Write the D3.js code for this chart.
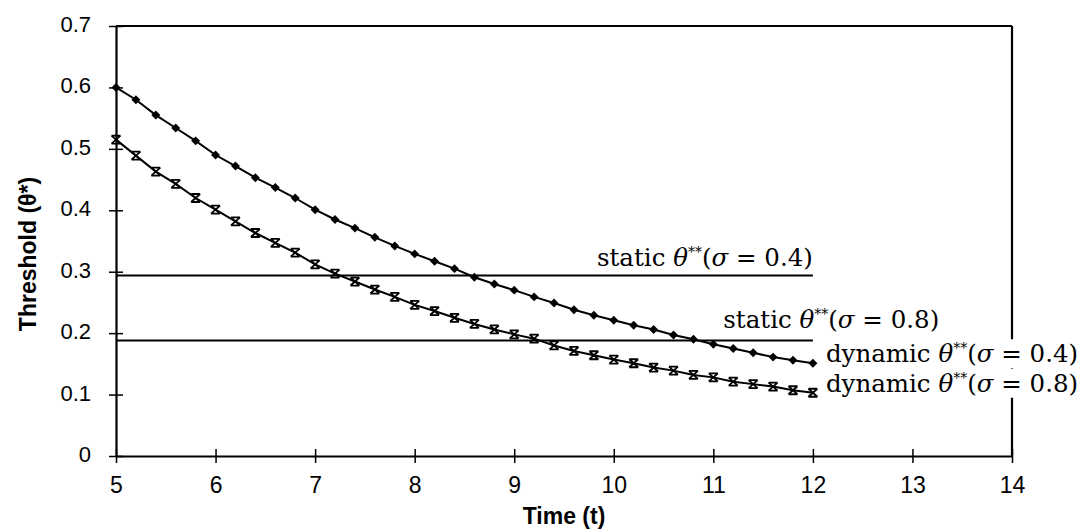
<!DOCTYPE html>
<html>
<head>
<meta charset="utf-8">
<script src="https://cdn.jsdelivr.net/npm/d3@7/dist/d3.min.js"></script>
<style>
  body { margin: 0; background: #fff; }
  svg { display: block; }
</style>
</head>
<body>
<div id="chart"></div>
<script>
// time points (t) where the dynamic thresholds were computed
const times = [5, 5.2, 5.4, 5.6, 5.8, 6, 6.2, 6.4, 6.6, 6.8, 7, 7.2, 7.4, 7.6, 7.8, 8, 8.2, 8.4, 8.6, 8.8,
               9, 9.2, 9.4, 9.6, 9.8, 10, 10.2, 10.4, 10.6, 10.8, 11, 11.2, 11.4, 11.6, 11.8, 12];

// dynamic theta** for sigma = 0.4 (diamonds)
const dyn04 = [0.600, 0.580, 0.555, 0.534, 0.513, 0.490, 0.472, 0.453, 0.437, 0.420,
               0.401, 0.385, 0.371, 0.356, 0.342, 0.329, 0.317, 0.305, 0.291, 0.280,
               0.270, 0.259, 0.249, 0.238, 0.229, 0.221, 0.213, 0.206, 0.197, 0.190,
               0.182, 0.175, 0.168, 0.161, 0.156, 0.151];

// dynamic theta** for sigma = 0.8 (crosses)
const dyn08 = [0.515, 0.489, 0.463, 0.443, 0.420, 0.401, 0.382, 0.363, 0.347, 0.331,
               0.312, 0.297, 0.284, 0.271, 0.259, 0.246, 0.236, 0.225, 0.215, 0.206,
               0.198, 0.191, 0.180, 0.171, 0.164, 0.157, 0.151, 0.144, 0.139, 0.132,
               0.128, 0.121, 0.117, 0.113, 0.107, 0.103];

// static thresholds (flat lines)
const staticSigmas = ["0.4", "0.8"];
const staticValues = [0.294, 0.188];

const xTicks = [5, 6, 7, 8, 9, 10, 11, 12, 13, 14];
const yTicks = [0, 0.1, 0.2, 0.3, 0.4, 0.5, 0.6, 0.7];
const yTickLabels = ["0", "0.1", "0.2", "0.3", "0.4", "0.5", "0.6", "0.7"];

var width = 1089, height = 531;

var svg = d3.select("#chart").append("svg")
    .attr("width", width)
    .attr("height", height);

var x = d3.scaleLinear().domain([5, 14]).range([116, 1012]);
var y = d3.scaleLinear().domain([0, 0.7]).range([456, 26]);

var sans = "'Liberation Sans', Arial, sans-serif";
var serif = "'DejaVu Serif', 'Liberation Serif', serif";

// frame: top + right edge
svg.append("line")
    .attr("x1", x(5)).attr("x2", x(14))
    .attr("y1", y(0.7)).attr("y2", y(0.7))
    .attr("stroke", "#000").attr("stroke-width", 2);
svg.append("line")
    .attr("x1", x(14)).attr("x2", x(14))
    .attr("y1", y(0.7)).attr("y2", y(0))
    .attr("stroke", "#000").attr("stroke-width", 2.2);

// axes, ticks crossing the axis line
var xAxis = svg.append("g")
    .attr("transform", "translate(0," + y(0) + ")")
    .call(d3.axisBottom(x).tickValues(xTicks).tickSizeInner(7).tickSizeOuter(0).tickPadding(14));
var yAxis = svg.append("g")
    .attr("transform", "translate(" + x(5) + ",0)")
    .call(d3.axisLeft(y).tickValues(yTicks).tickSizeInner(7).tickSizeOuter(0).tickPadding(18)
        .tickFormat(function (d, i) { return yTickLabels[i]; }));

[xAxis, yAxis].forEach(function (g) {
    g.select(".domain").attr("stroke", "#000").attr("stroke-width", 2.2);
    g.selectAll(".tick line").attr("stroke", "#000").attr("stroke-width", 1.5);
    g.selectAll(".tick text")
        .attr("fill", "#000")
        .style("font-family", sans);
});
// ticks go through the axis on both sides
xAxis.selectAll(".tick line").attr("y1", -7);
yAxis.selectAll(".tick line").attr("x1", 7);
xAxis.selectAll(".tick text").style("font-size", "23px");
yAxis.selectAll(".tick text").style("font-size", "22px").attr("dy", "0.25em");

// axis titles
svg.append("text")
    .attr("x", (x(5) + x(14)) / 2)
    .attr("y", 524)
    .attr("text-anchor", "middle")
    .style("font-family", sans)
    .style("font-weight", "bold")
    .style("font-size", "23px")
    .text("Time (t)");

svg.append("text")
    .attr("transform", "translate(36," + 254 + ") rotate(-90)")
    .attr("text-anchor", "middle")
    .style("font-family", sans)
    .style("font-weight", "bold")
    .style("font-size", "23px")
    .text("Threshold (θ*)");

// static lines from t=5 to t=12
staticValues.forEach(function (v) {
    svg.append("line")
        .attr("x1", x(5)).attr("x2", x(12))
        .attr("y1", y(v)).attr("y2", y(v))
        .attr("stroke", "#000").attr("stroke-width", 2);
});

// dynamic curves
var line = d3.line()
    .x(function (d, i) { return x(times[i]); })
    .y(function (d) { return y(d); });

svg.append("path")
    .datum(dyn04)
    .attr("d", line)
    .attr("fill", "none").attr("stroke", "#000").attr("stroke-width", 2);
svg.append("path")
    .datum(dyn08)
    .attr("d", line)
    .attr("fill", "none").attr("stroke", "#000").attr("stroke-width", 2);

// diamond markers
svg.selectAll(".dia")
    .data(dyn04)
    .enter().append("path")
    .attr("class", "dia")
    .attr("d", d3.symbol().type(d3.symbolSquare).size(40))
    .attr("transform", function (d, i) { return "translate(" + x(times[i]) + "," + y(d) + ") rotate(45)"; })
    .attr("fill", "#000");

// x markers with bars on top and bottom
var cross = "M-4.5,-4L4.5,4M4.5,-4L-4.5,4M-4.5,-4H4.5M-4.5,4H4.5";
svg.selectAll(".crs")
    .data(dyn08)
    .enter().append("path")
    .attr("class", "crs")
    .attr("d", cross)
    .attr("transform", function (d, i) { return "translate(" + x(times[i]) + "," + y(d) + ")"; })
    .attr("fill", "none")
    .attr("stroke", "#000")
    .attr("stroke-width", 1.8);

// label like: static θ**(σ = 0.4)
function label(kind, sigma, px, py, anchor, whiteBg) {
    var g = svg.append("g");
    var t = g.append("text")
        .attr("x", px).attr("y", py)
        .attr("text-anchor", anchor)
        .style("font-family", serif)
        .style("font-size", "24.5px")
        .attr("fill", "#000");
    t.append("tspan").text(kind + " ");
    t.append("tspan").style("font-style", "italic").text("θ");
    t.append("tspan").attr("dy", -9).style("font-size", "14px").text("**");
    t.append("tspan").attr("dy", 9).text("(");
    t.append("tspan").style("font-style", "italic").text("σ");
    t.append("tspan").text(" = " + sigma + ")");
    if (whiteBg) {
        var b = t.node().getBBox();
        g.insert("rect", "text")
            .attr("x", b.x - 2).attr("y", b.y)
            .attr("width", b.width + 4).attr("height", b.height)
            .attr("fill", "#fff");
    }
}

label("static", staticSigmas[0], x(12), y(staticValues[0]) - 9, "end", false);
label("static", staticSigmas[1], x(11.1), y(staticValues[1]) - 13, "start", false);
label("dynamic", staticSigmas[0], x(12) + 13, y(dyn04[dyn04.length - 1]) - 1, "start", true);
label("dynamic", staticSigmas[1], x(12) + 13, y(dyn08[dyn08.length - 1]) - 1, "start", true);
</script>
</body>
</html>
